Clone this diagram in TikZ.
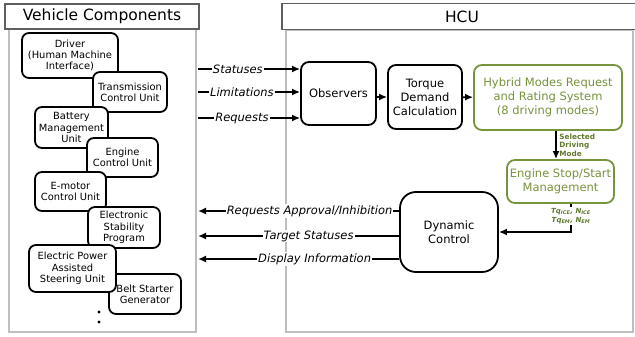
\documentclass[tikz,border=0pt]{standalone}
\usepackage{fontspec}
\setmainfont{DejaVu Sans}
\usetikzlibrary{arrows.meta}
\definecolor{framegray}{RGB}{190,190,190}
\definecolor{titlegray}{RGB}{95,95,95}
\definecolor{hybgreen}{RGB}{119,147,60}
\definecolor{notegreen}{RGB}{96,120,44}
\begin{document}
\begin{tikzpicture}[
      x=1pt, y=-1pt,
      frame/.style={draw=framegray, line width=2pt},
      title/.style={draw=titlegray, line width=1.8pt, fill=white,
                    font=\fontsize{15.5}{18}\selectfont},
      comp/.style={draw, line width=1.8pt, rounded corners=7pt, fill=white, align=center,
                   inner sep=1pt, font=\fontsize{9.9}{11.3}\selectfont},
      block/.style={draw, line width=1.8pt, rounded corners=8pt, fill=white, align=center,
                    inner sep=1pt, font=\fontsize{11.5}{14}\selectfont},
      gblock/.style={block, draw=hybgreen, text=hybgreen},
      flow/.style={-{Latex[length=8pt,width=7pt]}, line width=1.8pt},
      lbl/.style={fill=white, inner sep=1pt, font=\fontsize{11.5}{13}\selectfont\itshape},
      note/.style={text=notegreen, align=left, inner sep=1pt,
                   font=\fontsize{7.3}{8.3}\selectfont\bfseries}
    ]
    \useasboundingbox (0,0) rectangle (635,337);

    \draw[frame] (9,29) rectangle (196,332);
    \draw[frame] (286,30) rectangle (633,332);
    \node[title, minimum width=194pt, minimum height=25pt] (vctitle) at (102,16.5) {Vehicle Components};
    \node[title, minimum width=360pt, minimum height=26pt] (hcutitle) at (462,16.5) {HCU};

    \node[comp, minimum width=96pt, minimum height=45pt] (drv) at (70,55.5)
      {Driver\\(Human Machine\\Interface)};
    \node[comp, minimum width=74pt, minimum height=40pt] (tcu) at (130,92)
      {Transmission\\Control Unit};
    \node[comp, minimum width=73pt, minimum height=41pt] (bms) at (71.5,127.5)
      {Battery\\Management\\Unit};
    \node[comp, minimum width=71pt, minimum height=39pt] (ecu) at (122.5,157.5)
      {Engine\\Control Unit};
    \node[comp, minimum width=71pt, minimum height=39pt] (emcu) at (70.5,191.5)
      {E-motor\\Control Unit};
    \node[comp, minimum width=72pt, minimum height=41pt] (esp) at (124,227.5)
      {Electronic\\Stability\\Program};
    \node[comp, minimum width=72pt, minimum height=40pt] (bsg) at (145,294)
      {Belt Starter\\Generator};
    \node[comp, minimum width=87pt, minimum height=47pt] (epas) at (72.5,268.5)
      {Electric Power\\Assisted\\Steering Unit};
    \fill (99,312) circle (1.7pt) (99,322) circle (1.7pt);

    \node[block, minimum width=75pt, minimum height=63pt] (obs) at (338.5,93.5) {Observers};
    \node[block, minimum width=74pt, minimum height=64pt] (tdc) at (425,97)
      {Torque\\Demand\\Calculation};
    \node[gblock, minimum width=148pt, minimum height=65pt] (hyb) at (548,97.5)
      {Hybrid Modes Request\\and Rating System\\(8 driving modes)};
    \node[gblock, minimum width=107pt, minimum height=43pt] (ess) at (560.5,181.5)
      {Engine Stop/Start\\Management};
    \node[block, rounded corners=16pt, minimum width=98pt, minimum height=80pt] (dyn) at (449,232)
      {Dynamic\\Control};

    \coordinate (stin) at (198,69);
    \coordinate (liin) at (198,92);
    \coordinate (rqin) at (198,118);
    \coordinate (apout) at (198,211);
    \coordinate (tsout) at (198,236);
    \coordinate (diout) at (198,259);

    \draw[flow] (stin) -- (stin -| obs.west) node[lbl, pos=.39] {Statuses};
    \draw[flow] (liin) -- (liin -| obs.west) node[lbl, pos=.43] {Limitations};
    \draw[flow] (rqin) -- (rqin -| obs.west) node[lbl, pos=.43] {Requests};

    \draw[flow] (obs.east |- tdc.west) -- (tdc.west);
    \draw[flow] (tdc) -- (hyb);
    \draw[flow] ([xshift=-4.5pt]ess.north |- hyb.south) -- ([xshift=-4.5pt]ess.north)
      node[note, midway, right=1.5pt] {Selected\\Driving\\Mode};
    \draw[flow] ([xshift=10.5pt]ess.south) |- (dyn.east)
      node[note, fill=white, align=center, pos=.22, font=\fontsize{7}{9}\selectfont\bfseries\itshape]
      {Tq\textsubscript{ICE}, N\textsubscript{ICE}\\Tq\textsubscript{EM}, N\textsubscript{EM}};

    \draw[flow] (dyn.west |- apout) -- (apout) node[lbl, pos=.445] {Requests Approval/Inhibition};
    \draw[flow] (dyn.west |- tsout) -- (tsout) node[lbl, pos=.45] {Target Statuses};
    \draw[flow] (dyn.west |- diout) -- (diout) node[lbl, pos=.42] {Display Information};
  \end{tikzpicture}
\end{document}
